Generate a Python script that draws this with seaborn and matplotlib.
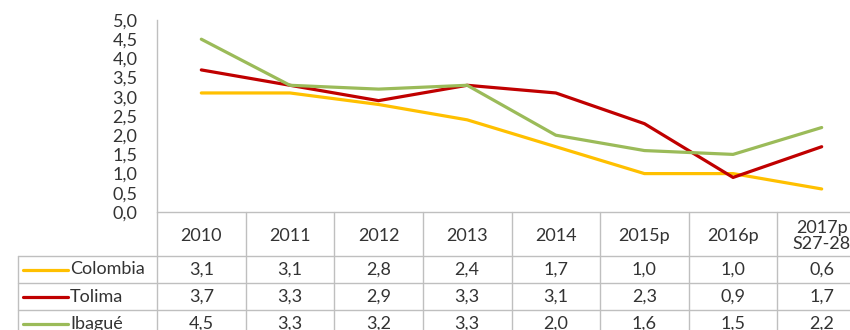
import pandas as pd
import matplotlib.pyplot as plt
import seaborn as sns
from matplotlib.ticker import FuncFormatter
from matplotlib.lines import Line2D

years = ["2010", "2011", "2012", "2013", "2014", "2015p", "2016p", "2017p\nS27-28"]
colombia = [3.1, 3.1, 2.8, 2.4, 1.7, 1.0, 1.0, 0.6]
tolima = [3.7, 3.3, 2.9, 3.3, 3.1, 2.3, 0.9, 1.7]
ibague = [4.5, 3.3, 3.2, 3.3, 2.0, 1.6, 1.5, 2.2]
series = ["Colombia", "Tolima", "Ibagué"]
colors = {"Colombia": "#FFC000", "Tolima": "#C00000", "Ibagué": "#9BBB59"}

rows = []
for name, vals in zip(series, [colombia, tolima, ibague]):
    for i, v in enumerate(vals):
        rows.append({"pos": i, "serie": name, "valor": v})
data = pd.DataFrame(rows)

sns.set_theme(style="white")
plt.rcParams["font.family"] = ["Lato", "DejaVu Sans"]
txt = "#333333"
grid = "#BFBFBF"
fs = 13

fig = plt.figure(figsize=(8.5, 3.3), dpi=100)
# axes stretches a bit past the right edge, like the cropped original
ax = fig.add_axes([157 / 850, 118 / 330, 709 / 850, 192 / 330])

sns.lineplot(data=data, x="pos", y="valor", hue="serie", palette=colors,
             linewidth=2.3, legend=False, ax=ax, sort=False)

ax.set_xlim(-0.5, len(years) - 0.5)
ax.set_ylim(0, 5)
ax.set_yticks([i * 0.5 for i in range(11)])
ax.yaxis.set_major_formatter(FuncFormatter(lambda v, p: f"{v:.1f}".replace(".", ",")))
ax.tick_params(axis="y", labelsize=fs, colors=txt, length=0, pad=14)
ax.set_xticks([])
ax.set_xlabel("")
ax.set_ylabel("")
for s in ["top", "right", "bottom"]:
    ax.spines[s].set_visible(False)
ax.spines["left"].set_color(grid)
ax.spines["left"].set_linewidth(1.0)

# data table under the plot (axes-y fraction, data-x)
tr = ax.get_xaxis_transform()
px = 1 / 192
hdr_bot = -44 * px
row_h = 27 * px
row_bots = [hdr_bot - row_h * (k + 1) for k in range(len(series))]
left_x = -0.5 - 139 / 88.6
kw = dict(transform=tr, clip_on=False, color=grid, lw=1.0)

ax.add_line(Line2D([-0.5, len(years) - 0.5], [0, 0], **kw))
for i in range(len(years) + 1):
    ax.add_line(Line2D([i - 0.5, i - 0.5], [0, row_bots[-1]], **kw))
ax.add_line(Line2D([left_x, left_x], [hdr_bot, row_bots[-1]], **kw))
for yb in [hdr_bot] + row_bots:
    ax.add_line(Line2D([left_x, len(years) - 0.5], [yb, yb], **kw))

for i, y in enumerate(years):
    ax.text(i, hdr_bot / 2 - 2 * px, y, transform=tr, ha="center", va="center",
            fontsize=fs, color=txt, linespacing=1.05, clip_on=False)

for k, (name, vals) in enumerate(zip(series, [colombia, tolima, ibague])):
    yc = hdr_bot - row_h * (k + 0.5)
    ax.add_line(Line2D([left_x + 0.06, left_x + 0.57], [yc, yc], transform=tr,
                       clip_on=False, color=colors[name], lw=2.3))
    ax.text(left_x + 0.59, yc, name, transform=tr, ha="left", va="center",
            fontsize=fs, color=txt, clip_on=False)
    for i, v in enumerate(vals):
        ax.text(i, yc, f"{v:.1f}".replace(".", ","), transform=tr, ha="center",
                va="center", fontsize=fs, color=txt, clip_on=False)

fig.savefig("out.png", dpi=100)
